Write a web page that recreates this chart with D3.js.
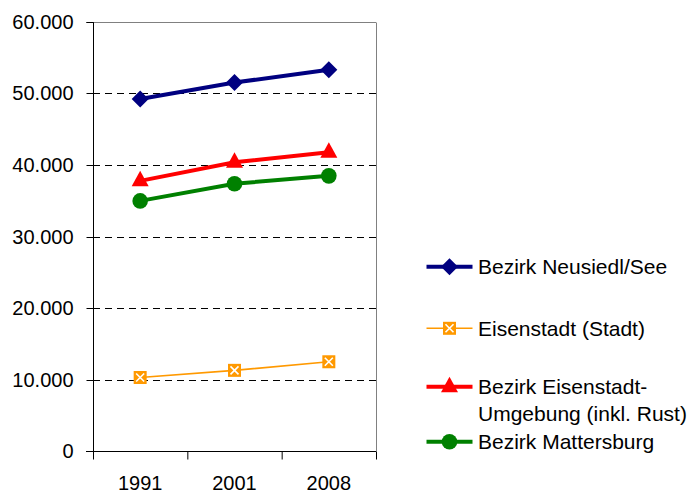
<!DOCTYPE html>
<html><head><meta charset="utf-8">
<script src="https://cdn.jsdelivr.net/npm/d3@7"></script>
<style>body{margin:0;background:#fff}svg{display:block}text{font-family:"Liberation Sans",Arial,sans-serif;fill:#000}</style>
</head><body><svg id="c" width="690" height="494"></svg>
<script>
const years = ["1991","2001","2008"];
const yTicks = [0,10000,20000,30000,40000,50000,60000];
const neusiedl = [49300,51600,53400];
const eisenstadtStadt = [10350,11350,12550];
const eisenstadtUmg = [37850,40450,41850];
const mattersburg = [35050,37450,38550];
const seriesNames = ["Bezirk Neusiedl/See","Eisenstadt (Stadt)","Bezirk Eisenstadt-|Umgebung (inkl. Rust)","Bezirk Mattersburg"];

const series = [
  {name:seriesNames[0], values:neusiedl, color:"#000080", width:4, marker:"diamond"},
  {name:seriesNames[1], values:eisenstadtStadt, color:"#FF9900", width:1.6, marker:"xsquare"},
  {name:seriesNames[2], values:eisenstadtUmg, color:"#FF0000", width:4, marker:"triangle"},
  {name:seriesNames[3], values:mattersburg, color:"#008000", width:4, marker:"circle"}
];

const svg = d3.select("#c");
const L=93, R=376, T=22.5, B=451.5;
const x = d3.scaleBand().domain(years).range([L,R]);
const y = d3.scaleLinear().domain([0,60000]).range([B,T]);
const fmt = v => v===0 ? "0" : d3.format(",")(v).replace(/,/g,".");
const snap = v => Math.round(v-0.5)+0.5;

// gridlines
svg.append("g").selectAll("line").data(yTicks.filter(d=>d>0)).join("line")
  .attr("x1",L).attr("x2",R).attr("y1",d=>snap(y(d))).attr("y2",d=>snap(y(d)))
  .attr("stroke",d=>d===60000?"#808080":"#000").attr("stroke-width",1).attr("stroke-dasharray","7,5");
// frame top/right
svg.append("line").attr("x1",L).attr("x2",R).attr("y1",snap(T)).attr("y2",snap(T)).attr("stroke","#808080").attr("stroke-width",1);
svg.append("line").attr("x1",R+0.5).attr("x2",R+0.5).attr("y1",T).attr("y2",B).attr("stroke","#808080").attr("stroke-width",1);

// y axis
const ya = svg.append("g").attr("transform",`translate(${L+0.5},0)`)
  .call(d3.axisLeft(y).tickValues(yTicks).tickFormat(fmt).tickSize(7).tickPadding(13).offset(0));
ya.select(".domain").attr("stroke","#000");
ya.selectAll(".tick").attr("transform",d=>`translate(0,${snap(y(d))})`);
ya.selectAll(".tick line").attr("stroke","#000");
ya.selectAll("text").style("font-size","20px").attr("fill","#000");

// x axis
const xa = svg.append("g").attr("transform",`translate(0,${snap(B)})`)
  .call(d3.axisBottom(x).tickSize(0).tickPadding(24).offset(0));
xa.select(".domain").attr("stroke","#000").attr("d",`M${L-7},0H${R}`);
xa.selectAll("text").style("font-size","20px").attr("fill","#000");
svg.append("g").selectAll("line").data([L,R].concat(years.slice(1).map(d=>x(d)))).join("line")
  .attr("x1",d=>d+0.5).attr("x2",d=>d+0.5).attr("y1",B).attr("y2",B+8).attr("stroke","#000");

const cx = d => x(d)+x.bandwidth()/2;

function drawMarker(g, type, color, px, py){
  if(type==="diamond"){
    g.append("path").attr("d",`M${px},${py-8.5}L${px+8.5},${py}L${px},${py+8.5}L${px-8.5},${py}Z`).attr("fill",color);
  } else if(type==="triangle"){
    g.append("path").attr("d",`M${px},${py-10}L${px+8.5},${py+5.5}L${px-8.5},${py+5.5}Z`).attr("fill",color);
  } else if(type==="circle"){
    g.append("circle").attr("cx",px).attr("cy",py).attr("r",7.8).attr("fill",color);
  } else if(type==="xsquare"){
    g.append("rect").attr("x",px-6.5).attr("y",py-6.5).attr("width",13).attr("height",13).attr("fill",color);
    g.append("path").attr("d",`M${px-4},${py-4}L${px+4},${py+4}M${px+4},${py-4}L${px-4},${py+4}`).attr("stroke","#fff").attr("stroke-width",1.6);
  }
}

const line = d3.line().x(d=>cx(d.year)).y(d=>y(d.v));
series.forEach(s=>{
  const pts = years.map((yr,i)=>({year:yr,v:s.values[i]}));
  const g = svg.append("g");
  g.append("path").datum(pts).attr("d",line).attr("fill","none").attr("stroke",s.color).attr("stroke-width",s.width);
  pts.forEach(p=>drawMarker(g,s.marker,s.color,cx(p.year),y(p.v)));
});

// legend
const legY = [266.7, 328.3, 386.7, 441.7];
series.forEach((s,i)=>{
  const g = svg.append("g");
  const ly = legY[i];
  g.append("line").attr("x1",426.5).attr("x2",472.5).attr("y1",ly).attr("y2",ly).attr("stroke",s.color).attr("stroke-width",s.width);
  drawMarker(g,s.marker,s.color,449.5,ly);
  const parts = s.name.split("|");
  parts.forEach((t,j)=>{
    g.append("text").attr("x",478).attr("y",ly+j*26.5).attr("dy","0.36em").style("font-size","21px").text(t);
  });
});
</script></body></html>
